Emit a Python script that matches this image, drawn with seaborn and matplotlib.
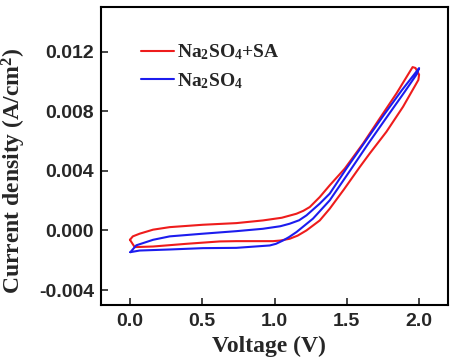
import pandas as pd
import matplotlib
matplotlib.use("Agg")
import matplotlib.pyplot as plt
import seaborn as sns

# CV loops (voltage in V, current density in A/cm2)
sa_voltage = [0.000, 0.020, 0.067, 0.160, 0.275, 0.505, 0.736, 0.920, 1.050, 1.152,
              1.200, 1.244, 1.313, 1.382, 1.486, 1.613, 1.728, 1.844, 1.955, 1.975,
              2.000, 1.995, 1.889, 1.774, 1.659, 1.590, 1.480, 1.382, 1.313, 1.221,
              1.160, 1.105, 1.040, 0.990, 0.736, 0.620, 0.390, 0.160, 0.033, 0.000]
sa_current = [-0.00063, -0.00040, -0.00022, 0.00005, 0.00022, 0.00038, 0.00049, 0.00067, 0.00085, 0.00112,
              0.00132, 0.00157, 0.00224, 0.00303, 0.00415, 0.00584, 0.00752, 0.00920, 0.01096, 0.01090,
              0.01045, 0.01010, 0.00830, 0.00662, 0.00517, 0.00426, 0.00275, 0.00146, 0.00067, 0.00000,
              -0.00035, -0.00056, -0.00068, -0.00072, -0.00072, -0.00074, -0.00090, -0.00108, -0.00112, -0.00063]

na_voltage = [0.003, 0.044, 0.160, 0.275, 0.505, 0.736, 0.920, 1.040, 1.105, 1.170,
              1.221, 1.313, 1.382, 1.497, 1.630, 1.760, 1.880, 2.000, 1.985, 1.900,
              1.780, 1.650, 1.532, 1.382, 1.266, 1.152, 1.100, 1.060, 1.010, 0.967,
              0.736, 0.505, 0.275, 0.067, 0.003]
na_current = [-0.00146, -0.00100, -0.00063, -0.00040, -0.00022, -0.00005, 0.00011, 0.00028, 0.00045, 0.00068,
              0.00101, 0.00180, 0.00247, 0.00415, 0.00600, 0.00780, 0.00940, 0.01089, 0.01050, 0.00930,
              0.00765, 0.00585, 0.00415, 0.00202, 0.00079, -0.00011, -0.00045, -0.00067, -0.00090, -0.00101,
              -0.00117, -0.00119, -0.00128, -0.00135, -0.00146]

labels = ["Na$_2$SO$_4$+SA", "Na$_2$SO$_4$"]

df = pd.concat([
    pd.DataFrame({"voltage": sa_voltage, "current": sa_current, "electrolyte": labels[0]}),
    pd.DataFrame({"voltage": na_voltage, "current": na_current, "electrolyte": labels[1]}),
], ignore_index=True)

sns.set_style("ticks")
plt.rcParams["mathtext.fontset"] = "custom"
plt.rcParams["mathtext.rm"] = "Liberation Serif:bold"
plt.rcParams["mathtext.it"] = "Liberation Serif:bold"
plt.rcParams["mathtext.bf"] = "Liberation Serif:bold"

fig = plt.figure(figsize=(4.53, 3.63), dpi=100)
ax = fig.add_axes([0.223, 0.160, 0.766, 0.821])

sns.lineplot(data=df, x="voltage", y="current", hue="electrolyte",
             palette={labels[0]: "#ee1c1c", labels[1]: "#1c1cee"},
             sort=False, estimator=None, linewidth=1.5, ax=ax)

ax.set_xlim(-0.2, 2.2)
ax.set_ylim(-0.005, 0.015)
ax.set_xticks([0.0, 0.5, 1.0, 1.5, 2.0])
ax.set_yticks([-0.004, 0.000, 0.004, 0.008, 0.012])
ax.set_xticklabels(["0.0", "0.5", "1.0", "1.5", "2.0"])
ax.set_yticklabels(["-0.004", "0.000", "0.004", "0.008", "0.012"])
ax.tick_params(direction="in", length=5, width=1.2, labelsize=14)
ax.tick_params(axis="x", pad=6)
ax.tick_params(axis="y", pad=5)
for lab in ax.get_xticklabels() + ax.get_yticklabels():
    lab.set_fontfamily("Liberation Sans")
    lab.set_fontweight("bold")
for sp in ax.spines.values():
    sp.set_linewidth(1.5)
    sp.set_color("black")

ax.set_xlabel("Voltage (V)", fontsize=17, fontweight="bold", family="Liberation Serif")
ax.set_ylabel("Current density (A/cm$^2$)", fontsize=17, fontweight="bold",
              family="Liberation Serif")
ax.xaxis.set_label_coords(0.484, -0.105)
ax.yaxis.set_label_coords(-0.21, 0.45)

ax.legend(title=None, frameon=False, loc="upper left", bbox_to_anchor=(0.115, 0.88),
          borderpad=0, borderaxespad=0, handlelength=1.7, handletextpad=0.15,
          labelspacing=0.45, prop={"family": "Liberation Serif", "weight": "bold", "size": 14})

fig.savefig("out.png", dpi=100)
